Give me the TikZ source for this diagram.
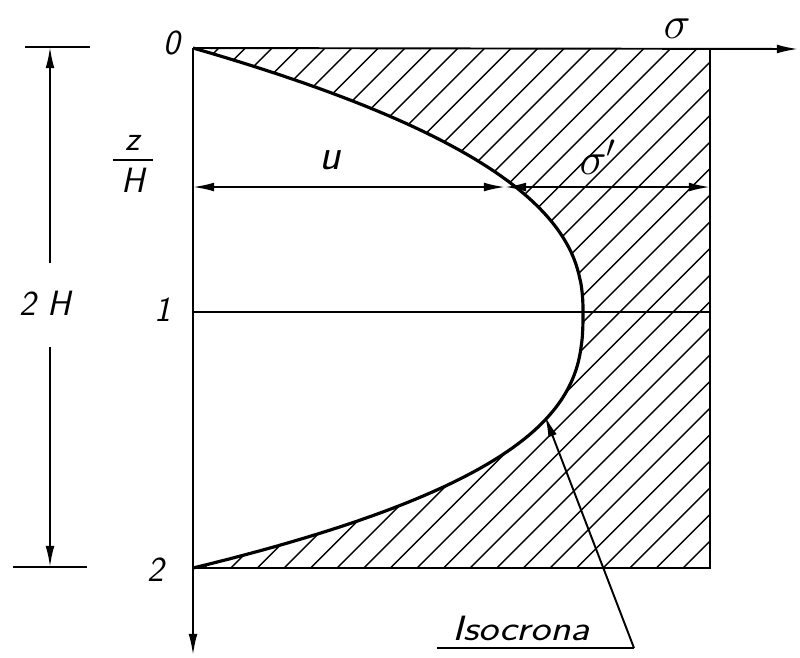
\documentclass[tikz,border=0pt]{standalone}
\usetikzlibrary{arrows.meta}
\begin{document}
\begin{tikzpicture}[x=0.02cm,y=-0.02cm,
  thinline/.style={line width=1.1pt},
  curveline/.style={line width=1.8pt},
  hatchline/.style={line width=0.8pt},
  tip/.style={-{Latex[length=12pt,width=5pt]}},
  twotip/.style={{Latex[length=12pt,width=5pt]}-{Latex[length=12pt,width=5pt]}},
  lbl/.style={font=\fontsize{20}{22}\selectfont\sffamily\itshape, inner sep=1pt}]
\useasboundingbox (0,0) rectangle (800,657);
% key points
\coordinate (O) at (193,48);
\coordinate (T) at (798,49);
\coordinate (B) at (193,655);
\coordinate (RT) at (710,48);
\coordinate (RB) at (710,568);
\coordinate (LB) at (193,568);
\coordinate (V) at (583,312);
\coordinate (M1) at (193,312);
\coordinate (M2) at (710,312);
\coordinate (UL) at (193,187);
\coordinate (UC) at (505,187);
\coordinate (UR) at (710,187);
\coordinate (DT1) at (25,47);
\coordinate (DT2) at (90,47);
\coordinate (DB1) at (13,567);
\coordinate (DB2) at (87,567);
\coordinate (DA) at (50,47);
\coordinate (DZ) at (50,567);
\coordinate (ISO) at (545,416);
\coordinate (IU1) at (437,648);
\coordinate (IU2) at (634,648);
\coordinate (FB1) at (113,160);
\coordinate (FB2) at (153,160);
% hatching
\begin{scope}
  \clip (O) -- plot[domain=0:0.99, samples=60, variable=\t] ({193+390*(1-(1-\t)^2.35)},{48+264*\t}) -- (V)
        -- plot[domain=0.99:0, samples=60, variable=\s] ({193+390*(1-(1-\s)^2.7)},{568-256*\s})
        -- (LB) -- (RB) -- (RT) -- cycle;
  \foreach \i in {-42,...,12} {
    \draw[hatchline] ({417+26.6*\i},568) -- ({417+26.6*\i+620},-52);
  }
\end{scope}
% rectangle and axes
\draw[thinline, tip] (O) -- (T);
\draw[thinline, tip] (O) -- (B);
\draw[thinline] (RT) -- (RB) -- (LB);
\draw[thinline] (M1) -- (M2);
% isochrone
\draw[curveline] (O) -- plot[domain=0:0.99, samples=60, variable=\t] ({193+390*(1-(1-\t)^2.35)},{48+264*\t}) -- (V)
        -- plot[domain=0.99:0, samples=60, variable=\s] ({193+390*(1-(1-\s)^2.7)},{568-256*\s}) -- (LB);
% u and sigma' arrows
\draw[thinline, twotip] (UL) -- (UC);
\draw[thinline, twotip] (UC) -- (UR);
% dimension line 2H
\draw[thinline] (DT1) -- (DT2);
\draw[thinline] (DB1) -- (DB2);
\node[lbl] (dim) at (45,303) {2\,\,H};
\draw[thinline, tip] (50,263) -- (DA);
\draw[thinline, tip] (50,347) -- (DZ);
% labels
\node[lbl] (l0) at (172,43) {0};
\node[lbl] (l1) at (163,310) {1};
\node[lbl] (l2) at (156,570) {2};
\node[lbl] (zz) at (133,143) {z};
\draw[thinline] (FB1) -- (FB2);
\node[lbl] (hh) at (133,180) {H};
\node[lbl] (lu) at (330,160) {\scalebox{1.25}{u}};
\node[lbl] (ls) at (677,29) {\scalebox{1.25}{$\sigma$}};
\node[lbl] (lsp) at (598,157) {\scalebox{1.25}{$\sigma'$}};
\node[lbl] (iso) at (521,628) {\scalebox{1.2}[1]{Isocrona}};
% leader to isochrone
\draw[thinline] (IU1) -- (IU2);
\draw[thinline, tip] (IU2) -- (ISO);
\end{tikzpicture}
\end{document}
